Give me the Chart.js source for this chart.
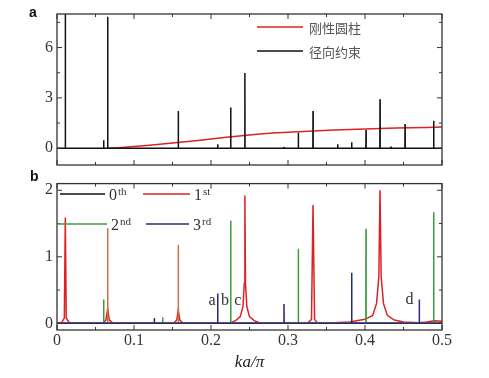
<!DOCTYPE html>
<html>
<head>
<meta charset="utf-8">
<script src="https://cdn.jsdelivr.net/npm/chart.js@4.4.1/dist/chart.umd.min.js"></script>
<style>
  body { margin: 0; background: #fff; width: 489px; height: 378px; position: relative; overflow: hidden; }
  .box { position: absolute; left: 0; width: 489px; }
  #boxA { top: 0; height: 185px; }
  #boxB { top: 170px; height: 208px; }
</style>
</head>
<body>
<div class="box" id="boxA"><canvas id="chartA"></canvas></div>
<div class="box" id="boxB"><canvas id="chartB"></canvas></div>
<script>
// x axis (ka/pi), shared by both panels
const xTickVals = [0, 0.05, 0.1, 0.15, 0.2, 0.25, 0.3, 0.35, 0.4, 0.45, 0.5];
const xTickLabels = ['0', '', '0.1', '', '0.2', '', '0.3', '', '0.4', '', '0.5'];

// panel a
const yTickValsA = [0, 1.5, 3, 4.5, 6, 7.5];
const yTickLabelsA = ['0', '', '3', '', '6', ''];
const rigidX = [0.066, 0.08, 0.1, 0.12, 0.14, 0.16, 0.18, 0.2, 0.22, 0.24, 0.26, 0.28, 0.3, 0.32, 0.34, 0.36, 0.38, 0.4, 0.42, 0.44, 0.46, 0.48, 0.5];
const rigidY = [0, 0.03, 0.1, 0.18, 0.26, 0.35, 0.45, 0.55, 0.65, 0.75, 0.83, 0.9, 0.95, 1.0, 1.04, 1.08, 1.11, 1.14, 1.17, 1.2, 1.22, 1.24, 1.26];
const radialPos = [0.0108, 0.0606, 0.0658, 0.1575, 0.2087, 0.2256, 0.244, 0.2948, 0.3134, 0.3325, 0.3645, 0.3827, 0.4013, 0.4195, 0.4338, 0.452, 0.4705, 0.4892];
const radialHt = [9, 0.48, 7.84, 2.22, 0.24, 2.42, 4.48, 0.08, 0.92, 2.22, 0.24, 0.36, 1.08, 2.92, 0.1, 1.44, 0.05, 1.64];

// panel b
const yTickValsB = [0, 0.5, 1, 1.5, 2];
const yTickLabelsB = ['0', '', '1', '', '2'];
const order0X = [0, 0.5];
const order0Y = [0, 0];
const order1X = [0, 0.006, 0.0095, 0.0108, 0.012, 0.016, 0.06, 0.0635, 0.0658, 0.068, 0.072, 0.152, 0.1555, 0.1575, 0.1595, 0.163,
  0.225, 0.232, 0.238, 0.2415, 0.2432, 0.244, 0.2448, 0.2465, 0.25, 0.256, 0.263, 0.326, 0.3305, 0.3325, 0.3345, 0.338,
  0.36, 0.38, 0.4, 0.41, 0.415, 0.418, 0.4195, 0.421, 0.424, 0.429, 0.438, 0.45, 0.47, 0.48, 0.49, 0.5];
const order1Y = [0, 0.01, 0.08, 1.59, 0.08, 0.01, 0.01, 0.05, 0.22, 0.05, 0.01, 0.01, 0.05, 0.2, 0.05, 0.01,
  0.01, 0.04, 0.1, 0.25, 0.6, 1.92, 0.6, 0.25, 0.1, 0.04, 0.01, 0.01, 0.06, 1.78, 0.06, 0.01,
  0.01, 0.02, 0.06, 0.12, 0.3, 0.7, 2.0, 0.7, 0.3, 0.12, 0.05, 0.02, 0.01, 0.02, 0.04, 0.03];
const mixPos = [0.0658, 0.1575];
const mixHt = [1.43, 1.18];
const order2Pos = [0.022, 0.0606, 0.1372, 0.2256, 0.3134, 0.4013, 0.4892];
const order2Ht = [0.02, 0.36, 0.09, 1.54, 1.12, 1.42, 1.67];
const order3Pos = [0.1264, 0.2087, 0.2948, 0.3827, 0.4705];
const order3Ht = [0.08, 0.45, 0.29, 0.76, 0.36];
const markText = ['a', 'b', 'c', 'd'];
const markX = [0.2014, 0.2182, 0.2347, 0.4577];
const markY = [0.34, 0.34, 0.34, 0.35];

const RED = '#dc2224', BLACK = '#111', GREEN = '#3d9b3d', NAVY = '#28287c', MIX = '#c8704c';
const halfW = 0.0002;

function spikes(pos, ht) {
  const pts = [{ x: 0, y: 0 }];
  pos.forEach((p, i) => {
    pts.push({ x: p - halfW, y: 0 }, { x: p, y: ht[i] }, { x: p + halfW, y: 0 });
  });
  pts.push({ x: 0.5, y: 0 });
  return pts;
}
function pairs(xs, ys) {
  return xs.map((x, i) => ({ x: x, y: ys[i] }));
}
function line(label, data, color) {
  return { label, data, borderColor: color, borderWidth: 1.5, pointRadius: 0, tension: 0, fill: false };
}

const tickFont = { family: 'Liberation Serif', size: 16 };

// inward ticks on all four sides + frame
const framePlugin = {
  id: 'frame',
  afterDraw(chart) {
    const { ctx, chartArea: a, scales: { x, y } } = chart;
    ctx.save();
    ctx.strokeStyle = '#333';
    ctx.lineWidth = 1.3;
    ctx.strokeRect(a.left, a.top, a.right - a.left, a.bottom - a.top);
    ctx.lineWidth = 1;
    ctx.beginPath();
    x.ticks.forEach(t => {
      const px = x.getPixelForValue(t.value);
      const len = t.big ? 5 : 3;
      ctx.moveTo(px, a.bottom); ctx.lineTo(px, a.bottom - len);
      ctx.moveTo(px, a.top); ctx.lineTo(px, a.top + len);
    });
    y.ticks.forEach(t => {
      const py = y.getPixelForValue(t.value);
      const len = t.big ? 5 : 3;
      ctx.moveTo(a.left, py); ctx.lineTo(a.left + len, py);
      ctx.moveTo(a.right, py); ctx.lineTo(a.right - len, py);
    });
    ctx.stroke();
    ctx.restore();
  }
};

function xScale(showLabels, axisH, title) {
  return {
    type: 'linear', min: 0, max: 0.5,
    grid: { display: false, drawTicks: false }, border: { display: false },
    afterBuildTicks: s => { s.ticks = xTickVals.map((v, i) => ({ value: v, big: xTickLabels[i] !== '' })); },
    afterFit: s => { s.height = axisH; },
    ticks: {
      display: showLabels, padding: 1, font: tickFont, color: '#333', maxRotation: 0, autoSkip: false,
      callback: (v, i) => xTickLabels[i]
    },
    title: title ? { display: true, text: 'ka/π', font: { family: 'Liberation Serif', size: 17, style: 'italic' }, color: '#222', padding: { top: 0, bottom: 5 } } : { display: false }
  };
}
function yScale(min, max, vals, labels) {
  return {
    min, max,
    grid: { display: false, drawTicks: false }, border: { display: false },
    afterBuildTicks: s => { s.ticks = vals.map((v, i) => ({ value: v, big: labels[i] !== '' })); },
    afterFit: s => { s.width = 57; },
    ticks: { padding: 4, font: tickFont, color: '#333', autoSkip: false, callback: (v, i) => labels[i] }
  };
}

// panel a
new Chart(document.getElementById('chartA'), {
  type: 'line',
  data: {
    datasets: [
      line('径向约束', spikes(radialPos, radialHt), BLACK),
      line('刚性圆柱', pairs(rigidX, rigidY), RED)
    ]
  },
  options: {
    responsive: true, maintainAspectRatio: false, animation: false,
    layout: { padding: { left: 0, right: 47, top: 14, bottom: 0 } },
    plugins: { legend: { display: false }, tooltip: { enabled: false } },
    scales: { x: xScale(false, 20, false), y: yScale(-1, 8, yTickValsA, yTickLabelsA) }
  },
  plugins: [framePlugin, {
    id: 'legendA',
    afterDraw(chart) {
      const ctx = chart.ctx;
      ctx.save();
      ctx.font = 'bold 14px "Liberation Sans"';
      ctx.fillStyle = '#111';
      ctx.textBaseline = 'alphabetic';
      ctx.fillText('a', 29, 17);
      ctx.lineWidth = 1.5;
      [['刚性圆柱', RED, 27], ['径向约束', BLACK, 51]].forEach(([txt, col, yy]) => {
        ctx.strokeStyle = col;
        ctx.beginPath(); ctx.moveTo(257, yy); ctx.lineTo(303, yy); ctx.stroke();
        ctx.fillStyle = '#555';
        ctx.font = '13px "Noto Sans CJK SC"';
        ctx.textBaseline = 'middle';
        ctx.fillText(txt, 309, yy + 1);
      });
      ctx.restore();
    }
  }]
});

// panel b
new Chart(document.getElementById('chartB'), {
  type: 'line',
  data: {
    datasets: [
      line('3rd', spikes(order3Pos, order3Ht), NAVY),
      line('2nd', spikes(order2Pos, order2Ht), GREEN),
      line('mix', spikes(mixPos, mixHt), MIX),
      line('1st', pairs(order1X, order1Y), RED),
      line('0th', pairs(order0X, order0Y), BLACK)
    ]
  },
  options: {
    responsive: true, maintainAspectRatio: false, animation: false,
    layout: { padding: { left: 0, right: 47, top: 7, bottom: 0 } },
    plugins: { legend: { display: false }, tooltip: { enabled: false } },
    scales: { x: xScale(true, 48, true), y: yScale(-0.1, 2.1, yTickValsB, yTickLabelsB) }
  },
  plugins: [framePlugin, {
    id: 'legendB',
    afterDraw(chart) {
      const { ctx, scales: { x, y } } = chart;
      ctx.save();
      ctx.font = 'bold 14px "Liberation Sans"';
      ctx.fillStyle = '#111';
      ctx.fillText('b', 30, 11);
      const items = [
        ['0', 'th', BLACK, 60, 105, 24],
        ['1', 'st', RED, 143, 190, 24],
        ['2', 'nd', GREEN, 57, 107, 54],
        ['3', 'rd', NAVY, 146, 189, 54]
      ];
      items.forEach(([n, sup, col, x0, x1, yy]) => {
        ctx.strokeStyle = col; ctx.lineWidth = 1.5;
        ctx.beginPath(); ctx.moveTo(x0, yy); ctx.lineTo(x1, yy); ctx.stroke();
        ctx.fillStyle = '#333';
        ctx.textBaseline = 'alphabetic';
        ctx.font = '16px "Liberation Serif"';
        ctx.fillText(n, x1 + 4, yy + 6);
        const w = ctx.measureText(n).width;
        ctx.font = '11px "Liberation Serif"';
        ctx.fillText(sup, x1 + 4 + w + 1, yy + 1);
      });
      ctx.font = '16px "Liberation Serif"';
      ctx.textAlign = 'center';
      ctx.textBaseline = 'middle';
      ctx.fillStyle = '#333';
      markText.forEach((t, i) => {
        ctx.fillText(t, x.getPixelForValue(markX[i]), y.getPixelForValue(markY[i]));
      });
      ctx.restore();
    }
  }]
});
</script>
</body>
</html>
